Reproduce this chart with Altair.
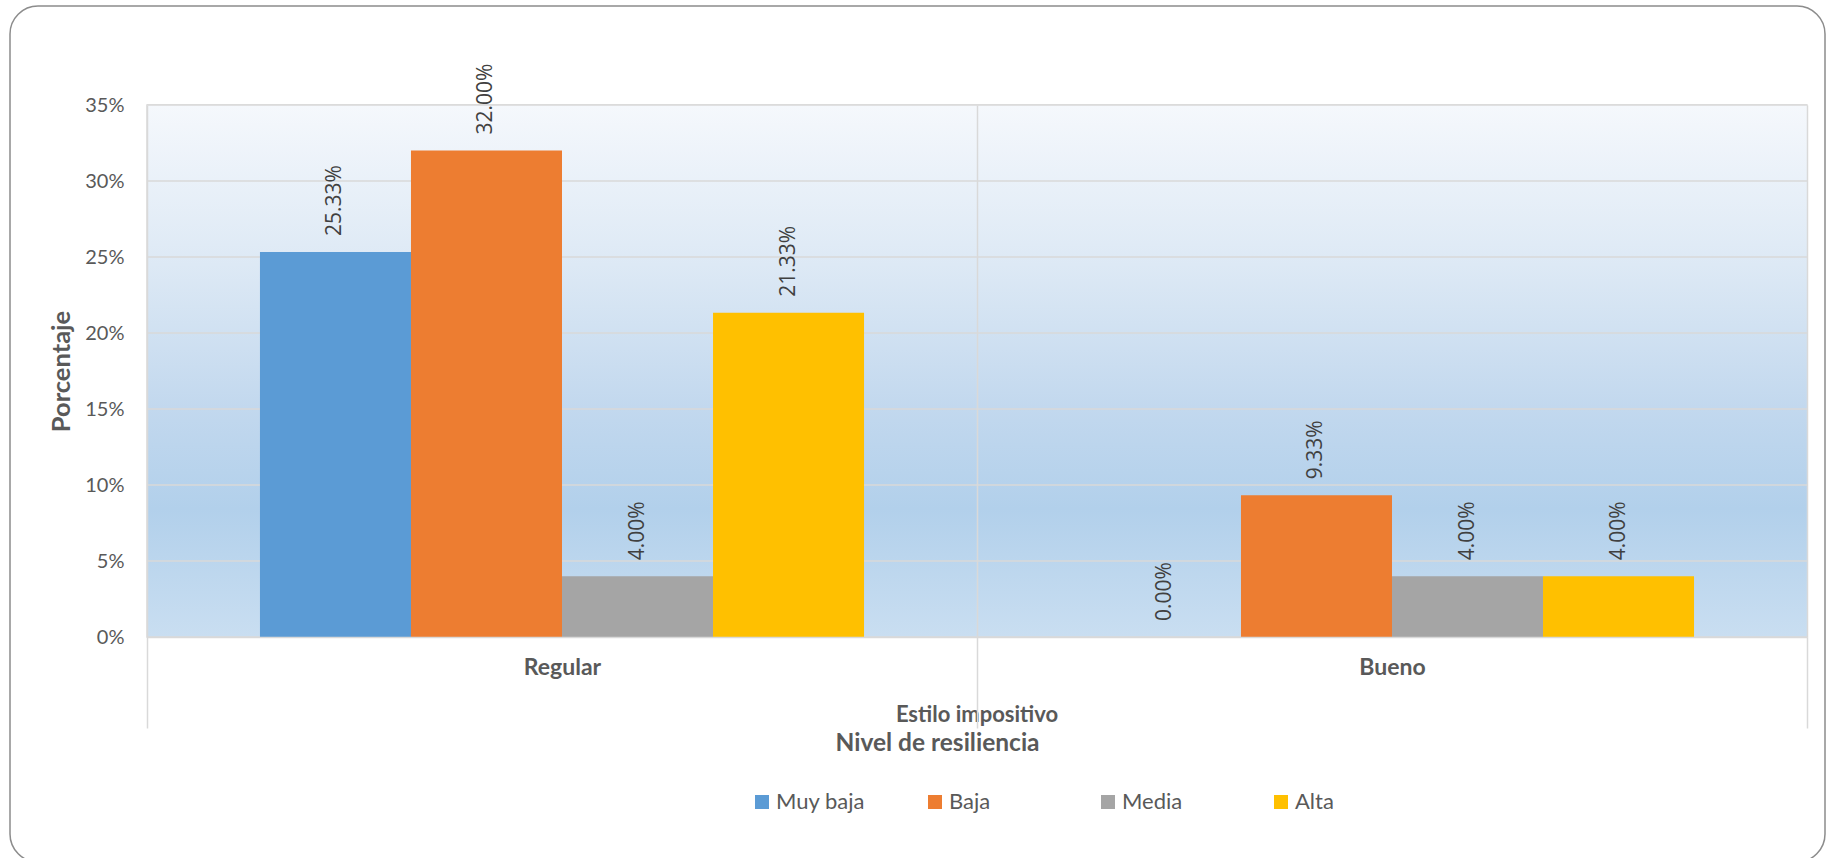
import altair as alt
import pandas as pd

categories = ["Regular", "Bueno"]
series = ["Muy baja", "Baja", "Media", "Alta"]
regular_values = [0.2533, 0.3200, 0.0400, 0.2133]
bueno_values = [0.0000, 0.0933, 0.0400, 0.0400]
series_colors = ["#5B9BD5", "#ED7D31", "#A5A5A5", "#FFC000"]
y_ticks = [0, 0.05, 0.10, 0.15, 0.20, 0.25, 0.30, 0.35]
x_title = "Nivel de resiliencia"
group_title = "Estilo impositivo"
y_title = "Porcentaje"

rows = []
for cat, vals in zip(categories, [regular_values, bueno_values]):
    for s, v in zip(series, vals):
        rows.append({"cat": cat, "serie": s, "value": v})
df = pd.DataFrame(rows)
grid_df = pd.DataFrame({"value": y_ticks})

W, H = 1660, 532
GRID = "#D9D9D9"
TXT = "#595959"

bg = alt.LinearGradient(
    gradient="linear",
    stops=[
        alt.GradientStop(offset=0, color="#F5F8FC"),
        alt.GradientStop(offset=0.3, color="#DDE9F5"),
        alt.GradientStop(offset=0.57, color="#C2D8EE"),
        alt.GradientStop(offset=0.76, color="#B2D0EB"),
        alt.GradientStop(offset=1, color="#C9DEF1"),
    ],
    x1=0, x2=0, y1=0, y2=1,
)

x_enc = alt.X(
    "cat:N",
    sort=categories,
    scale=alt.Scale(paddingInner=0, paddingOuter=0),
    axis=alt.Axis(
        title=x_title,
        tickBand="extent", zindex=1,
        grid=True, gridColor=GRID, gridWidth=1.5,
        ticks=True, tickSize=91, tickColor=GRID, tickWidth=1.5,
        domainColor=GRID, domainWidth=1.5,
        labelAngle=0, labelFont="Lato", labelFontWeight="bold",
        labelFontSize=23, labelColor=TXT, labelPadding=-72,
        titleFont="Lato", titleFontWeight="bold", titleFontSize=24.5,
        titleColor=TXT, titleX=790, titleY=106,
        titleAlign="center", titleBaseline="middle",
    ),
)
xo_enc = alt.XOffset("serie:N", sort=series,
                     scale=alt.Scale(paddingOuter=0.748, paddingInner=0))
y_enc = alt.Y(
    "value:Q",
    scale=alt.Scale(domain=[0, 0.35], nice=False),
    axis=alt.Axis(
        values=y_ticks, format=".0%",
        grid=False, ticks=False, domain=False,
        labelFont="Lato", labelFontSize=20, labelColor=TXT, labelPadding=23,
        title=y_title, titleFont="Lato", titleFontWeight="bold",
        titleFontSize=25.5, titleColor=TXT, titleAngle=270,
        titleX=-86, titleY=266, titleAlign="center", titleBaseline="middle",
    ),
)

background = alt.Chart(alt.Data(values=[{"a": 1}])).mark_rect(color=bg).encode(
    x=alt.value(0), x2=alt.value(W), y=alt.value(0), y2=alt.value(H)
)

hgrid = alt.Chart(grid_df).mark_rule(color=GRID, strokeWidth=1.5).encode(
    y=alt.Y("value:Q")
)

base = alt.Chart(df)

bars = base.mark_bar().encode(
    x=x_enc, xOffset=xo_enc, y=y_enc,
    color=alt.Color(
        "serie:N", sort=series,
        scale=alt.Scale(domain=series, range=series_colors),
        legend=alt.Legend(
            title=None, orient="none", legendX=604, legendY=686,
            direction="horizontal", columns=4, gridAlign="all",
            symbolType="square", symbolSize=196,
            symbolStrokeWidth=0, labelFont="Lato", labelFontSize=22,
            labelColor=TXT, labelOffset=3, columnPadding=59,
        ),
    ),
)

labels = base.mark_text(
    angle=270, align="left", baseline="middle", dx=16,
    font="Open Sans", fontSize=21, color="#404040",
).encode(
    x=alt.X("cat:N", sort=categories), xOffset=alt.XOffset("serie:N", sort=series),
    y="value:Q", text=alt.Text("value:Q", format=".2%"),
)

group_label = alt.Chart(alt.Data(values=[{"t": group_title}])).mark_text(
    font="Lato", fontWeight="bold", fontSize=22, color=TXT,
    align="center", baseline="middle",
).encode(x=alt.value(830), y=alt.value(610), text="t:N")

border = alt.Chart(alt.Data(values=[{"a": 1}])).mark_rect(
    filled=False, stroke="#8C8C8C", strokeWidth=1.5, cornerRadius=28,
).encode(x=alt.value(-137), x2=alt.value(1678), y=alt.value(-99), y2=alt.value(757))

chart = alt.layer(border, background, hgrid, bars, labels, group_label).properties(
    width=W, height=H,
    padding={"left": 147, "top": 105, "right": 22, "bottom": 221},
    autosize=alt.AutoSizeParams(type="none"),
    background="white",
).configure_view(
    stroke=GRID, strokeWidth=1.5,
)

chart.save("out.html", embed_options={"renderer": "svg", "actions": False})
